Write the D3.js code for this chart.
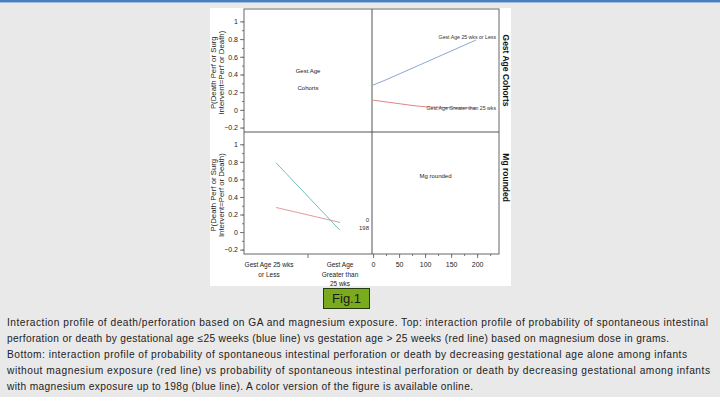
<!DOCTYPE html>
<html>
<head>
<meta charset="utf-8">
<script src="https://cdn.jsdelivr.net/npm/d3@7"></script>
<style>
  body{margin:0;background:#e9e9e9;}
  svg{display:block;}
</style>
</head>
<body>
<svg id="fig"></svg>
<script>
var mgDose=[0,25,50,75,100,125,150,175,198];
var pLowGA=[0.28,0.34,0.405,0.47,0.535,0.6,0.665,0.73,0.79];
var pHighGA=[0.11,0.09,0.07,0.05,0.035,0.03,0.025,0.022,0.02];

var gaCats=["Gest Age 25 wks or Less","Gest Age Greater than 25 wks"];
var gaCatLines=[["Gest Age 25 wks","or Less"],["Gest Age","Greater than","25 wks"]];
var mgLevels=[0,198];

var yTicks=[-0.2,0,0.2,0.4,0.6,0.8,1];
var xTicks=[0,50,100,150,200];

var captionLines=[
  "Interaction profile of death/perforation based on GA and magnesium exposure. Top: interaction profile of probability of spontaneous intestinal",
  "perforation or death by gestational age \u226425 weeks (blue line) vs gestation age > 25 weeks (red line) based on magnesium dose in grams.",
  "Bottom: interaction profile of probability of spontaneous intestinal perforation or death by decreasing gestational age alone among infants",
  "without magnesium exposure (red line) vs probability of spontaneous intestinal perforation or death by decreasing gestational among infants",
  "with magnesium exposure up to 198g (blue line). A color version of the figure is available online."
];
var captionWidths=[701,662,680,703,466];

var svg=d3.select("#fig").attr("width",720).attr("height",405);

// page chrome
svg.append("rect").attr("x",0).attr("y",0).attr("width",720).attr("height",405).attr("fill","#e9e9e9");
svg.append("rect").attr("x",0).attr("y",0).attr("width",720).attr("height",2).attr("fill","#4a7fbf");
svg.append("rect").attr("x",0).attr("y",2).attr("width",720).attr("height",1).attr("fill","#9fbfe0");
svg.append("rect").attr("x",0).attr("y",397).attr("width",720).attr("height",8).attr("fill","#ffffff");
svg.append("rect").attr("x",210).attr("y",8).attr("width",301).attr("height",278).attr("fill","#ffffff");

var box={left:244,mid:372,right:499,top:9,midY:132,bottom:254};

var yTop=d3.scaleLinear().domain([-0.25,1.14]).range([box.midY,box.top]);
var yBot=d3.scaleLinear().domain([-0.25,1.14]).range([box.bottom,box.midY]);
var xMg=d3.scaleLinear().domain([-2,242]).range([box.mid,box.right]);
var xGA=d3.scaleBand().domain(gaCats).range([box.left,box.mid]);

var tickFont="Liberation Sans, Arial, sans-serif";

var drawYAxis=function(yScale)
{
  var g=svg.append("g").attr("transform","translate("+box.left+",0)");
  g.call(d3.axisLeft(yScale).tickValues(d3.range(-0.2,1.05,0.1)).tickSize(2).tickFormat(""));
  g.select(".domain").remove();
  var g2=svg.append("g").attr("transform","translate("+box.left+",0)");
  g2.call(d3.axisLeft(yScale).tickValues(yTicks).tickSize(4).tickPadding(2)
    .tickFormat(function(d){return d3.format("~g")(Math.round(d*10)/10);}));
  g2.select(".domain").remove();
  g2.selectAll("text").attr("font-family",tickFont).attr("font-size",7).attr("fill","#222");
};

drawYAxis(yTop);
drawYAxis(yBot);

// right x axis (Mg rounded)
var gx=svg.append("g").attr("transform","translate(0,"+box.bottom+")");
gx.call(d3.axisBottom(xMg).tickValues(d3.range(0,226,25)).tickSize(2).tickFormat(""));
gx.select(".domain").remove();
var gx2=svg.append("g").attr("transform","translate(0,"+box.bottom+")");
gx2.call(d3.axisBottom(xMg).tickValues(xTicks).tickSize(4).tickPadding(4));
gx2.select(".domain").remove();
gx2.selectAll("text").attr("font-family",tickFont).attr("font-size",7).attr("fill","#222");

// left x axis (gestational age)
svg.append("line")
  .attr("x1",xGA(gaCats[1])).attr("x2",xGA(gaCats[1]))
  .attr("y1",box.bottom).attr("y2",box.bottom+4)
  .attr("stroke","#777");
gaCats.forEach(function(c,i){
  var cx=xGA(c)+xGA.bandwidth()/2-(i==0?7:0);
  var t=svg.append("text")
    .attr("x",cx)
    .attr("y",box.bottom+13)
    .attr("text-anchor","middle")
    .attr("font-family",tickFont).attr("font-size",6.5).attr("fill","#222");
  t.selectAll("tspan").data(gaCatLines[i]).enter().append("tspan")
    .attr("x",cx)
    .attr("dy",function(d,j){return j==0?0:9.5;})
    .text(function(d){return d;});
});

svg.selectAll(".tick line").attr("stroke","#777");

// frame and dividers
svg.append("rect").attr("x",box.left).attr("y",box.top)
  .attr("width",box.right-box.left).attr("height",box.bottom-box.top)
  .attr("fill","none").attr("stroke","#666").attr("stroke-width",1);
svg.append("line").attr("x1",box.mid).attr("x2",box.mid).attr("y1",box.top).attr("y2",box.bottom)
  .attr("stroke","#555");
svg.append("line").attr("x1",box.left).attr("x2",box.right).attr("y1",box.midY).attr("y2",box.midY)
  .attr("stroke","#555");

// top-left: cohort label
svg.append("text").attr("x",(box.left+box.mid)/2).attr("y",yTop(0.42))
  .attr("text-anchor","middle").attr("font-family",tickFont).attr("font-size",6).attr("fill","#222")
  .text("Gest Age");
svg.append("text").attr("x",(box.left+box.mid)/2).attr("y",yTop(0.22))
  .attr("text-anchor","middle").attr("font-family",tickFont).attr("font-size",6).attr("fill","#222")
  .text("Cohorts");

// top-right: probability vs Mg dose
var mgLine=function(vals){
  return d3.line()
    .x(function(d,i){return xMg(mgDose[i]);})
    .y(function(d){return yTop(d);})
    .curve(d3.curveMonotoneX)(vals);
};
svg.append("path").attr("d",mgLine(pLowGA)).attr("fill","none").attr("stroke","#6f8fc6").attr("stroke-width",0.8);
svg.append("path").attr("d",mgLine(pHighGA)).attr("fill","none").attr("stroke","#d9645e").attr("stroke-width",0.8);

svg.append("text").attr("x",box.right-3).attr("y",yTop(pLowGA[8])-1)
  .attr("text-anchor","end").attr("font-family",tickFont).attr("font-size",5.2).attr("fill","#333")
  .text("Gest Age 25 wks or Less");
svg.append("text").attr("x",box.right-3).attr("y",yTop(pHighGA[8])+1.5)
  .attr("text-anchor","end").attr("font-family",tickFont).attr("font-size",5.2).attr("fill","#333")
  .text("Gest Age Greater than 25 wks");

// bottom-left: probability vs gestational age at Mg 0 and Mg 198
var gaLine=d3.line()
  .x(function(d){return xGA(d.cat)+xGA.bandwidth()/2;})
  .y(function(d){return yBot(d.p);});
var noMg=[{cat:gaCats[0],p:pLowGA[0]},{cat:gaCats[1],p:pHighGA[0]}];
var maxMg=[{cat:gaCats[0],p:pLowGA[8]},{cat:gaCats[1],p:pHighGA[8]}];
svg.append("path").attr("d",gaLine(noMg)).attr("fill","none").attr("stroke","#d98080").attr("stroke-width",0.8);
svg.append("path").attr("d",gaLine(maxMg)).attr("fill","none").attr("stroke","#4fb0ac").attr("stroke-width",0.8);

svg.append("text").attr("x",box.mid-3).attr("y",yBot(pHighGA[0])-0.5)
  .attr("text-anchor","end").attr("font-family",tickFont).attr("font-size",6).attr("fill","#333")
  .text(mgLevels[0]);
svg.append("text").attr("x",box.mid-3).attr("y",yBot(pHighGA[8])-0.5)
  .attr("text-anchor","end").attr("font-family",tickFont).attr("font-size",6).attr("fill","#333")
  .text(mgLevels[1]);

// bottom-right label
svg.append("text").attr("x",(box.mid+box.right)/2).attr("y",yBot(0.62))
  .attr("text-anchor","middle").attr("font-family",tickFont).attr("font-size",6).attr("fill","#222")
  .text("Mg rounded");

// y titles
var yTitle=function(yScale){
  var cy=yScale(0.42);
  var t=svg.append("text")
    .attr("transform","translate(216,"+cy+") rotate(-90)")
    .attr("text-anchor","middle").attr("font-family",tickFont).attr("font-size",7.8).attr("fill","#222");
  t.append("tspan").attr("x",0).attr("dy",0).text("P(Death Perf or Surg");
  t.append("tspan").attr("x",0).attr("dy",7.5).text("Intervent=Perf or Death)");
};
yTitle(yTop);
yTitle(yBot);

// strip labels on the right
var strip=function(label,cy){
  svg.append("text")
    .attr("transform","translate(503,"+cy+") rotate(90)")
    .attr("text-anchor","middle").attr("font-family",tickFont).attr("font-size",8.5)
    .attr("font-weight","bold").attr("fill","#111")
    .text(label);
};
strip("Gest Age Cohorts",(box.top+box.midY)/2);
strip("Mg rounded",yBot(0.62));

// Fig.1 button
svg.append("rect").attr("x",323.5).attr("y",288.5).attr("width",46).attr("height",20)
  .attr("fill","#7aab1c").attr("stroke","#2a3a10").attr("stroke-width",1);
svg.append("text").attr("x",346.5).attr("y",303).attr("text-anchor","middle")
  .attr("font-family",tickFont).attr("font-size",13).attr("fill","#1a1a1a").text("Fig.1");

// caption
svg.selectAll(".cap").data(captionLines).enter().append("text")
  .attr("class","cap")
  .attr("x",7)
  .attr("y",function(d,i){return 326+i*16;})
  .attr("font-family",tickFont).attr("font-size",10.2).attr("fill","#222")
  .attr("textLength",function(d,i){return captionWidths[i];})
  .attr("lengthAdjust","spacing")
  .text(function(d){return d;});
</script>
</body>
</html>
